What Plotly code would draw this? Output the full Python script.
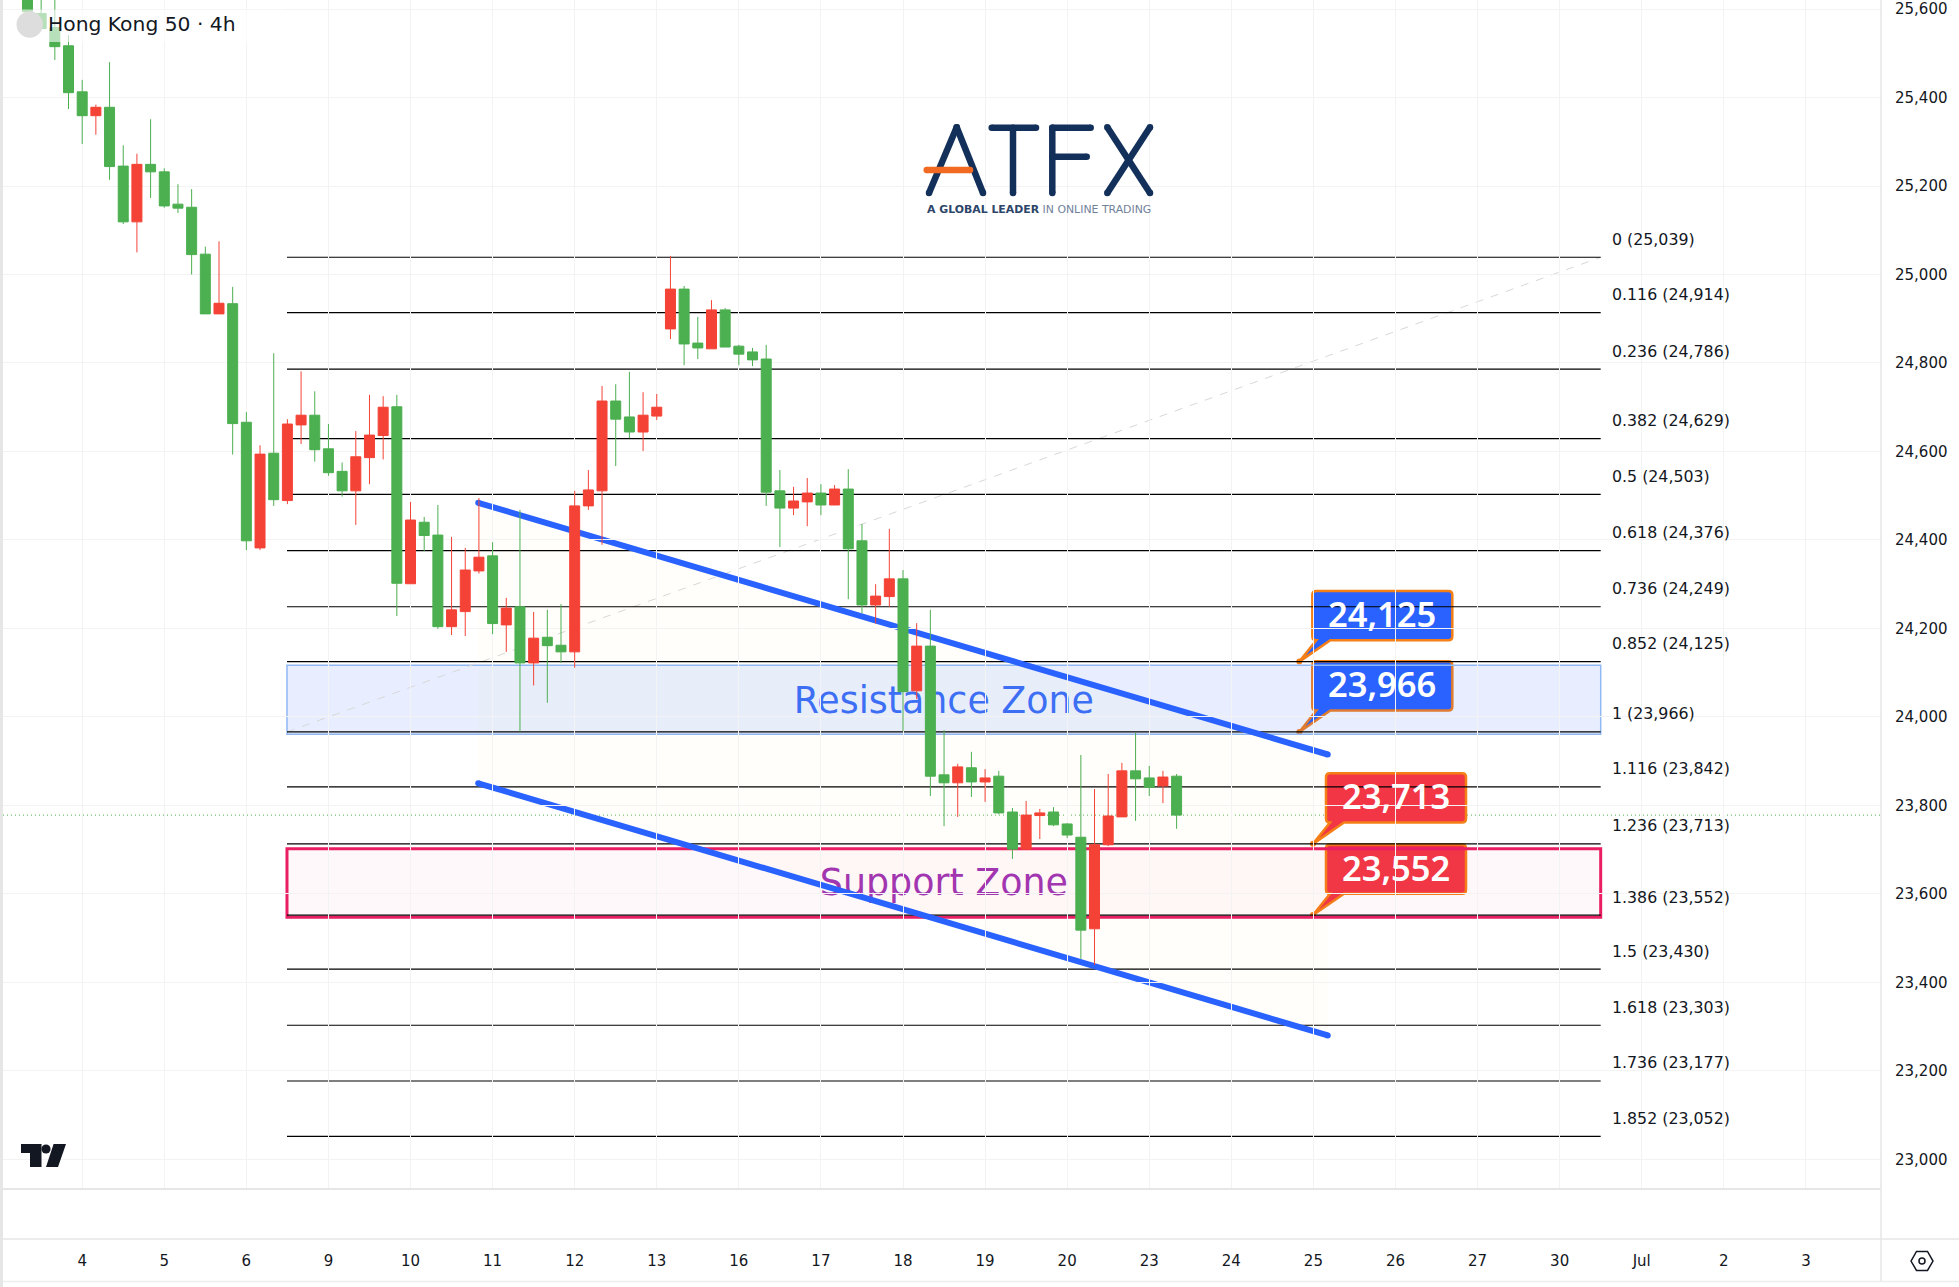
import plotly.graph_objects as go

# Hong Kong 50, 4h bars (index 0 is the first bar of the 4th)
bar_index = list(range(-4, 81))
opens = [25640, 25590, 25558, 25517, 25413, 25359, 25378, 25245, 25119, 25249, 25232, 25159, 25152, 25046, 24911, 24934,
         24666, 24382, 24596, 24489, 24660, 24682, 24606, 24555, 24511, 24586, 24636, 24701, 24301, 24440, 24411, 24204,
         24238, 24330, 24364, 24208, 24249, 24122, 24180, 24162, 24147, 24477, 24511, 24714, 24678, 24644, 24680, 24877,
         24967, 24845, 24832, 24920, 24838, 24825, 24809, 24511, 24472, 24486, 24506, 24479, 24515, 24398, 24253, 24272,
         24312, 24059, 24160, 23869, 23851, 23885, 23853, 23866, 23785, 23701, 23777, 23785, 23758, 23728, 23521, 23711,
         23774, 23878, 23862, 23844, 23866]
closes = [25594, 25556, 25515, 25411, 25359, 25378, 25244, 25119, 25249, 25232, 25155, 25150, 25045, 24911, 24935, 24663,
          24398, 24594, 24491, 24662, 24682, 24604, 24552, 24511, 24588, 24637, 24700, 24302, 24445, 24410, 24204, 24242,
          24332, 24361, 24211, 24246, 24122, 24178, 24161, 24147, 24477, 24513, 24714, 24673, 24644, 24682, 24700, 24967,
          24843, 24834, 24920, 24836, 24820, 24807, 24508, 24472, 24488, 24506, 24479, 24515, 24380, 24253, 24273, 24312,
          24057, 24160, 23866, 23851, 23887, 23853, 23862, 23783, 23701, 23778, 23783, 23756, 23733, 23518, 23711, 23776,
          23878, 23860, 23841, 23864, 23778]
highs = [25660, 25650, 25635, 25541, 25440, 25384, 25480, 25292, 25273, 25351, 25240, 25204, 25193, 25063, 25075, 24972,
         24689, 24614, 24822, 24673, 24781, 24736, 24662, 24575, 24646, 24728, 24725, 24728, 24486, 24452, 24479, 24407,
         24382, 24495, 24395, 24269, 24468, 24237, 24242, 24255, 24511, 24558, 24748, 24752, 24780, 24734, 24730, 25042,
         24974, 24904, 24942, 24924, 24841, 24834, 24841, 24558, 24520, 24540, 24526, 24524, 24560, 24436, 24300, 24425,
         24332, 24212, 24242, 23970, 23894, 23921, 23882, 23878, 23794, 23810, 23792, 23796, 23760, 23914, 23837, 23871,
         23896, 23964, 23889, 23878, 23871]
lows = [25590, 25556, 25485, 25374, 25295, 25316, 25214, 25114, 25050, 25173, 25151, 25139, 25000, 24911, 24911, 24593,
        24377, 24377, 24477, 24481, 24617, 24577, 24545, 24498, 24434, 24526, 24582, 24228, 24301, 24375, 24199, 24185,
        24183, 24324, 24187, 24147, 23967, 24071, 24032, 24122, 24111, 24468, 24389, 24567, 24630, 24601, 24671, 24854,
        24795, 24809, 24832, 24836, 24795, 24793, 24477, 24384, 24456, 24431, 24456, 24479, 24266, 24234, 24211, 24249,
        23968, 24040, 23821, 23753, 23774, 23819, 23808, 23780, 23679, 23701, 23724, 23753, 23726, 23453, 23439, 23708,
        23774, 23765, 23821, 23805, 23747]

day_ticks = [0, 6, 12, 18, 24, 30, 36, 42, 48, 54, 60, 66, 72, 78, 84, 90, 96, 102, 108, 114, 120, 126]
day_labels = ["4", "5", "6", "9", "10", "11", "12", "13", "16", "17", "18", "19", "20", "23", "24", "25", "26", "27",
              "30", "Jul", "2", "3"]
price_ticks = [23000, 23200, 23400, 23600, 23800, 24000, 24200, 24400, 24600, 24800, 25000, 25200, 25400, 25600]

fib_ratios = ["0", "0.116", "0.236", "0.382", "0.5", "0.618", "0.736", "0.852", "1", "1.116", "1.236", "1.386", "1.5",
              "1.618", "1.736", "1.852"]
fib_prices = [25039, 24914, 24786, 24629, 24503, 24376, 24249, 24125, 23966, 23842, 23713, 23552, 23430, 23303, 23177,
              23052]
fib_start, fib_end = 14.97, 111.0
fib_label_x = 111.68

channel_x = [28.95, 91.05]
channel_upper = [24484, 23915]
channel_lower = [23850, 23280]

resistance_band = [23961, 24117]
support_band = [23547, 23702]
last_price = 23778

blue_callouts = [(88.97, 24125), (88.97, 23966)]
red_callouts = [(89.97, 23713), (89.97, 23552)]

W, H = 1959, 1287
LEFT, RIGHT, BOTTOM = 3, 1881, 1188
INK = "#131722"
GREEN, RED = "#4caf50", "#f44336"
BLUE, ORANGE, CRIMSON = "#2962ff", "#f57f17", "#f23645"
FONT = "DejaVu Sans"


def fx(px):
    return (px - LEFT) / (RIGHT - LEFT)


def fy(py):
    return 1 - py / BOTTOM


shapes = []


def page_line(x0, y0, x1, y1, color, width):
    shapes.append(dict(type="line", xref="paper", yref="paper", x0=fx(x0), y0=fy(y0), x1=fx(x1), y1=fy(y1),
                       line=dict(color=color, width=width), layer="above"))


def page_poly(points, fill, outline=None, width=0):
    path = "M" + "L".join(f"{fx(x):.5f},{fy(y):.5f}" for x, y in points) + "Z"
    shapes.append(dict(type="path", xref="paper", yref="paper", path=path, fillcolor=fill,
                       line=dict(color=outline or fill, width=width), layer="above"))


def page_disc(cx, cy, r, fill, outline=None, width=0):
    shapes.append(dict(type="circle", xref="paper", yref="paper", x0=fx(cx - r), x1=fx(cx + r), y0=fy(cy + r),
                       y1=fy(cy - r), fillcolor=fill, line=dict(color=outline or fill, width=width), layer="above"))


def logo_stroke(x0, y0, x1, y1, color="#12305a", width=6.5):
    page_line(x0, y0, x1, y1, color, width)
    page_disc(x0, y0, width / 2, color)
    page_disc(x1, y1, width / 2, color)


# Parallel channel fill, sits under everything else drawn on the price pane
shapes.append(dict(type="path", xref="x", yref="y", layer="below", fillcolor="rgba(255,235,170,0.06)",
                   line=dict(width=0),
                   path=f"M{channel_x[0]},{channel_upper[0]}L{channel_x[1]},{channel_upper[1]}"
                        f"L{channel_x[1]},{channel_lower[1]}L{channel_x[0]},{channel_lower[0]}Z"))

# Last price marker
shapes.append(dict(type="line", xref="paper", yref="y", x0=0, x1=1, y0=last_price, y1=last_price, layer="below",
                   line=dict(color=GREEN, width=1, dash="1px 3px")))

# Price callouts: pixel-sized bubble anchored on the price it names
annotations = []
BUBBLE = ("M17,21.4 L0,0 L31,21.4 L149,21.4 Q153,21.4 153,25.4 L153,66.7 Q153,70.7 149,70.7 "
          "L17,70.7 Q13,70.7 13,66.7 L13,25.4 Q13,21.4 17,21.4 Z")
for (bar, price), fill in [(c, BLUE) for c in blue_callouts] + [(c, CRIMSON) for c in red_callouts]:
    shapes.append(dict(type="path", xref="x", yref="y", xsizemode="pixel", ysizemode="pixel", xanchor=bar,
                       yanchor=price, path=BUBBLE, fillcolor=fill, layer="below",
                       line=dict(color=ORANGE, width=2.5)))
    shapes.append(dict(type="circle", xref="x", yref="y", xsizemode="pixel", ysizemode="pixel", xanchor=bar,
                       yanchor=price, x0=-3, x1=3, y0=-3, y1=3, fillcolor=ORANGE, layer="below",
                       line=dict(color=ORANGE, width=0)))
    annotations.append(dict(x=bar, y=price, xref="x", yref="y", xshift=83, yshift=48, showarrow=False,
                            text=f"{price:,}", font=dict(family="Noto Sans", size=34.5, color="white", weight=600)))

# Resistance and support bands with their captions
shapes.append(dict(type="rect", xref="x", yref="y", x0=fib_start, x1=fib_end, y0=resistance_band[0],
                   y1=resistance_band[1], layer="below", fillcolor="rgba(41,98,255,0.11)",
                   line=dict(color="#90b8f3", width=1.5),
                   label=dict(text="Resistance Zone", textposition="top center", padding=11.5,
                              font=dict(family=FONT, size=36.4, color="#3d6ff5"))))
shapes.append(dict(type="rect", xref="x", yref="y", x0=fib_start, x1=fib_end, y0=support_band[0],
                   y1=support_band[1], layer="below", fillcolor="rgba(240,60,110,0.035)",
                   line=dict(color="#e91e63", width=3),
                   label=dict(text="Support Zone", textposition="top center", padding=10,
                              font=dict(family=FONT, size=36.4, color="#a235b0"))))

# Fibonacci extension: faint diagonal, level lines and labels
shapes.append(dict(type="line", xref="x", yref="y", x0=fib_start, x1=fib_end, y0=fib_prices[8], y1=fib_prices[0],
                   layer="below", line=dict(color="#d8d8d8", width=1, dash="8px 8px")))
for ratio, price in zip(fib_ratios, fib_prices):
    shapes.append(dict(type="line", xref="x", yref="y", x0=fib_start, x1=fib_end, y0=price, y1=price, layer="below",
                       line=dict(color="#000000", width=1.2)))
    annotations.append(dict(x=fib_label_x, y=price, xref="x", yref="y", xanchor="left", yanchor="middle", yshift=18,
                            showarrow=False, text=f"{ratio} ({price:,})", font=dict(family=FONT, size=15.8, color=INK)))

# Descending channel rails with rounded ends
for rail in (channel_upper, channel_lower):
    shapes.append(dict(type="line", xref="x", yref="y", x0=channel_x[0], x1=channel_x[1], y0=rail[0], y1=rail[1],
                       layer="below", line=dict(color=BLUE, width=6)))
    for bar, price in zip(channel_x, rail):
        shapes.append(dict(type="circle", xref="x", yref="y", xsizemode="pixel", ysizemode="pixel", xanchor=bar,
                           yanchor=price, x0=-3, x1=3, y0=-3, y1=3, fillcolor=BLUE, layer="below",
                           line=dict(width=0)))

# Pane frame
page_line(0, 1189, RIGHT, 1189, "#e6e6e6", 2)
page_line(0, 1239, W, 1239, "#e6e6e6", 1.5)
page_line(0, 1281.5, W, 1281.5, "#eeeeee", 1.5)
page_line(RIGHT, 0, RIGHT, 1281, "#e6e6e6", 1.5)
page_line(1.5, 0, 1.5, 1287, "#e6e6e6", 3)

# Legend veil and symbol disc
shapes.append(dict(type="rect", xref="paper", yref="paper", x0=fx(4), x1=fx(283), y0=fy(42), y1=fy(9.5),
                   fillcolor="rgba(255,255,255,0.6)", line=dict(width=0), layer="above"))
page_disc(29.7, 24.5, 13.2, "#dddddd")

# Broker wordmark
logo_stroke(929, 193, 956.7, 127.3)
logo_stroke(956.7, 127.3, 983, 193)
logo_stroke(926.7, 170, 970, 170, color="#f26a21")
logo_stroke(991.7, 127.7, 1036, 127.7)
logo_stroke(1013, 127.7, 1013, 193)
logo_stroke(1052.3, 127.7, 1052.3, 193)
logo_stroke(1052.3, 127.7, 1090.7, 127.7)
logo_stroke(1052.3, 156.7, 1086.7, 156.7)
logo_stroke(1107.3, 127.3, 1150, 193)
logo_stroke(1150, 127.3, 1107.3, 193)

# Watermark glyph at the lower left
page_poly([(21, 1144), (41.5, 1144), (41.5, 1167), (30, 1167), (30, 1153), (21, 1153)], "#131722")
page_disc(46, 1149, 4.6, "#131722")
page_poly([(53.6, 1144), (66, 1144), (58, 1167), (46, 1167)], "#131722")

# Settings hexagon in the corner of the time axis
page_poly([(1911, 1261), (1916.5, 1251.5), (1927.5, 1251.5), (1933, 1261), (1927.5, 1270.5), (1916.5, 1270.5)],
          "rgba(0,0,0,0)", INK, 1.5)
page_disc(1922, 1261, 3, "rgba(0,0,0,0)", INK, 1.5)

annotations += [
    dict(x=fx(46), y=fy(24), xref="paper", yref="paper", xanchor="left", yanchor="middle", showarrow=False,
         text="Hong Kong 50 · 4h", font=dict(family=FONT, size=20.3, color=INK)),
    dict(x=fx(925), y=fy(209), xref="paper", yref="paper", xanchor="left", yanchor="middle", showarrow=False,
         text="<b>A GLOBAL LEADER</b> <span style='color:#71819a'>IN ONLINE TRADING</span>",
         font=dict(family=FONT, size=10.9, color="#2c4569")),
]

fig = go.Figure(go.Candlestick(
    x=bar_index, open=opens, high=highs, low=lows, close=closes,
    increasing=dict(line=dict(color=RED, width=1), fillcolor=RED),
    decreasing=dict(line=dict(color=GREEN, width=1), fillcolor=GREEN),
    whiskerwidth=0, showlegend=False,
))

fig.update_layout(
    width=W, height=H, autosize=False,
    margin=dict(l=LEFT, r=W - RIGHT, t=0, b=H - BOTTOM, pad=0),
    paper_bgcolor="white", plot_bgcolor="white",
    boxgap=0.27, boxgroupgap=0, showlegend=False,
    font=dict(family=FONT, color=INK, size=15),
    shapes=shapes, annotations=annotations,
    xaxis=dict(range=[-5.789, 131.49], tickmode="array", tickvals=day_ticks, ticktext=day_labels,
               rangeslider=dict(visible=False), showgrid=True, gridcolor="#f3f3f3", gridwidth=1, zeroline=False,
               showline=False, ticks="", ticklabelstandoff=62, tickfont=dict(family=FONT, size=15, color=INK)),
    yaxis=dict(range=[22935.1, 25620.5], side="right", tickmode="array", tickvals=price_ticks,
               ticktext=[f"{v:,}" for v in price_ticks], showgrid=True, gridcolor="#f3f3f3", gridwidth=1,
               zeroline=False, showline=False, ticks="", ticklabelstandoff=13,
               tickfont=dict(family=FONT, size=15, color=INK)),
)

fig.write_html("out.html")
